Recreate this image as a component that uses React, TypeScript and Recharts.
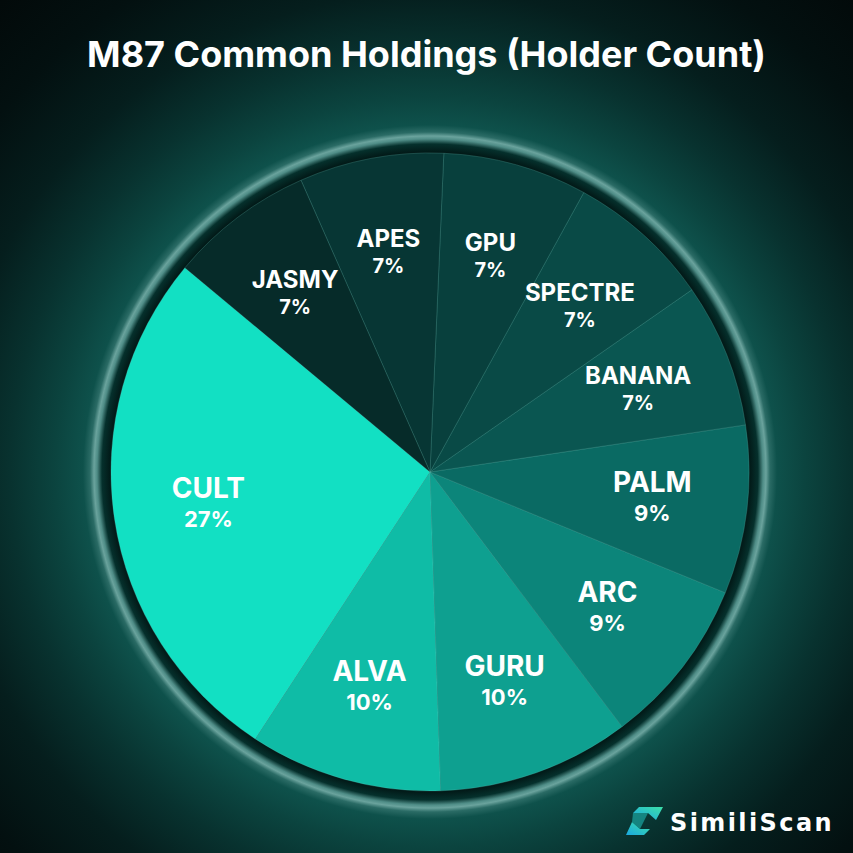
import { Cell, Pie, PieChart } from "recharts";

const tokens = ["CULT", "ALVA", "GURU", "ARC", "PALM", "BANANA", "SPECTRE", "GPU", "APES", "JASMY"];
const holderCounts = [22, 8, 8, 7, 7, 6, 6, 6, 6, 6];
const sliceColors = [
  "#12e0c3",
  "#0fbca6",
  "#0ea090",
  "#0c857a",
  "#0a6a63",
  "#0a5651",
  "#094a46",
  "#08403d",
  "#073634",
  "#062b29",
];

const data = tokens.map((name, i) => ({ name, value: holderCounts[i] }));

const RADIAN = Math.PI / 180;
// visual centre of the pie on the page (chart margin is 5px)
const CX = 430;
const CY = 472;
const R = 319;

const FONT = "Inter, 'Noto Sans', sans-serif";

function SliceLabel(props: any) {
  const { cx, cy, midAngle, percent, name } = props;
  const r = 224;
  const x = cx + r * Math.cos(-midAngle * RADIAN);
  const y = cy + r * Math.sin(-midAngle * RADIAN);
  const big = percent >= 0.08;
  return (
    <g>
      <text x={x} y={big ? y - 7 : y - 5} textAnchor="middle" fill="#ffffff" fontFamily={FONT} fontWeight={700} fontSize={big ? 28 : 24}>
        {name}
      </text>
      <text x={x} y={big ? y + 22 : y + 21} textAnchor="middle" fill="#ffffff" fontFamily={FONT} fontWeight={700} fontSize={big ? 22 : 20}>
        {`${Math.round(percent * 100)}%`}
      </text>
    </g>
  );
}

const background = `radial-gradient(circle at ${CX}px ${CY}px,
  #0b4a44 0px, #0b4a44 316px,
  #021a18 320px, #05302c 328px, #4f8d87 333px, #6aa39d 336px, #2a6b65 340px,
  #0e514b 347px, #0b443f 375px, #08322f 420px, #051e1d 480px,
  #031010 560px, #020808 660px)`;

export default function App() {
  return (
    <div
      style={{
        position: "absolute",
        left: 0,
        top: 0,
        width: 853,
        height: 853,
        background,
        overflow: "hidden",
      }}
    >
      <div
        style={{
          position: "absolute",
          left: 0,
          top: 31,
          width: 853,
          textAlign: "center",
          color: "#ffffff",
          fontFamily: FONT,
          fontWeight: 700,
          fontSize: 36,
          lineHeight: "46px",
        }}
      >
        M87 Common Holdings (Holder Count)
      </div>
      <div style={{ position: "absolute", left: 0, top: 0 }}>
        <PieChart width={853} height={853}>
          <Pie
            data={data}
            dataKey="value"
            nameKey="name"
            cx={CX - 5}
            cy={CY - 5}
            outerRadius={R}
            startAngle={140.2}
            endAngle={500.2}
            stroke="rgba(120,200,190,0.2)"
            strokeWidth={1}
            label={SliceLabel}
            labelLine={false}
            isAnimationActive={false}
          >
            {data.map((d, i) => (
              <Cell key={d.name} fill={sliceColors[i]} />
            ))}
          </Pie>
        </PieChart>
      </div>
      <svg style={{ position: "absolute", left: 620, top: 800 }} width={233} height={45}>
        <defs>
          <linearGradient id="logoGrad" x1="0" y1="1" x2="1" y2="0">
            <stop offset="0%" stopColor="#1aa8e0" />
            <stop offset="100%" stopColor="#3de0a8" />
          </linearGradient>
        </defs>
        <polygon points="19,7 43,7 36,20 28,13 13,13" fill="url(#logoGrad)" />
        <polygon points="24,35 6,35 12,22 20,29 30,29" fill="url(#logoGrad)" />
        <polygon points="13,13 28,13 20,29 12,22" fill="#1fc4c0" opacity={0.55} />
        <text x={50} y={31} fill="#ffffff" fontFamily="'DejaVu Sans', sans-serif" fontWeight={600} fontSize={24} letterSpacing={2.4}>
          SimiliScan
        </text>
      </svg>
    </div>
  );
}
